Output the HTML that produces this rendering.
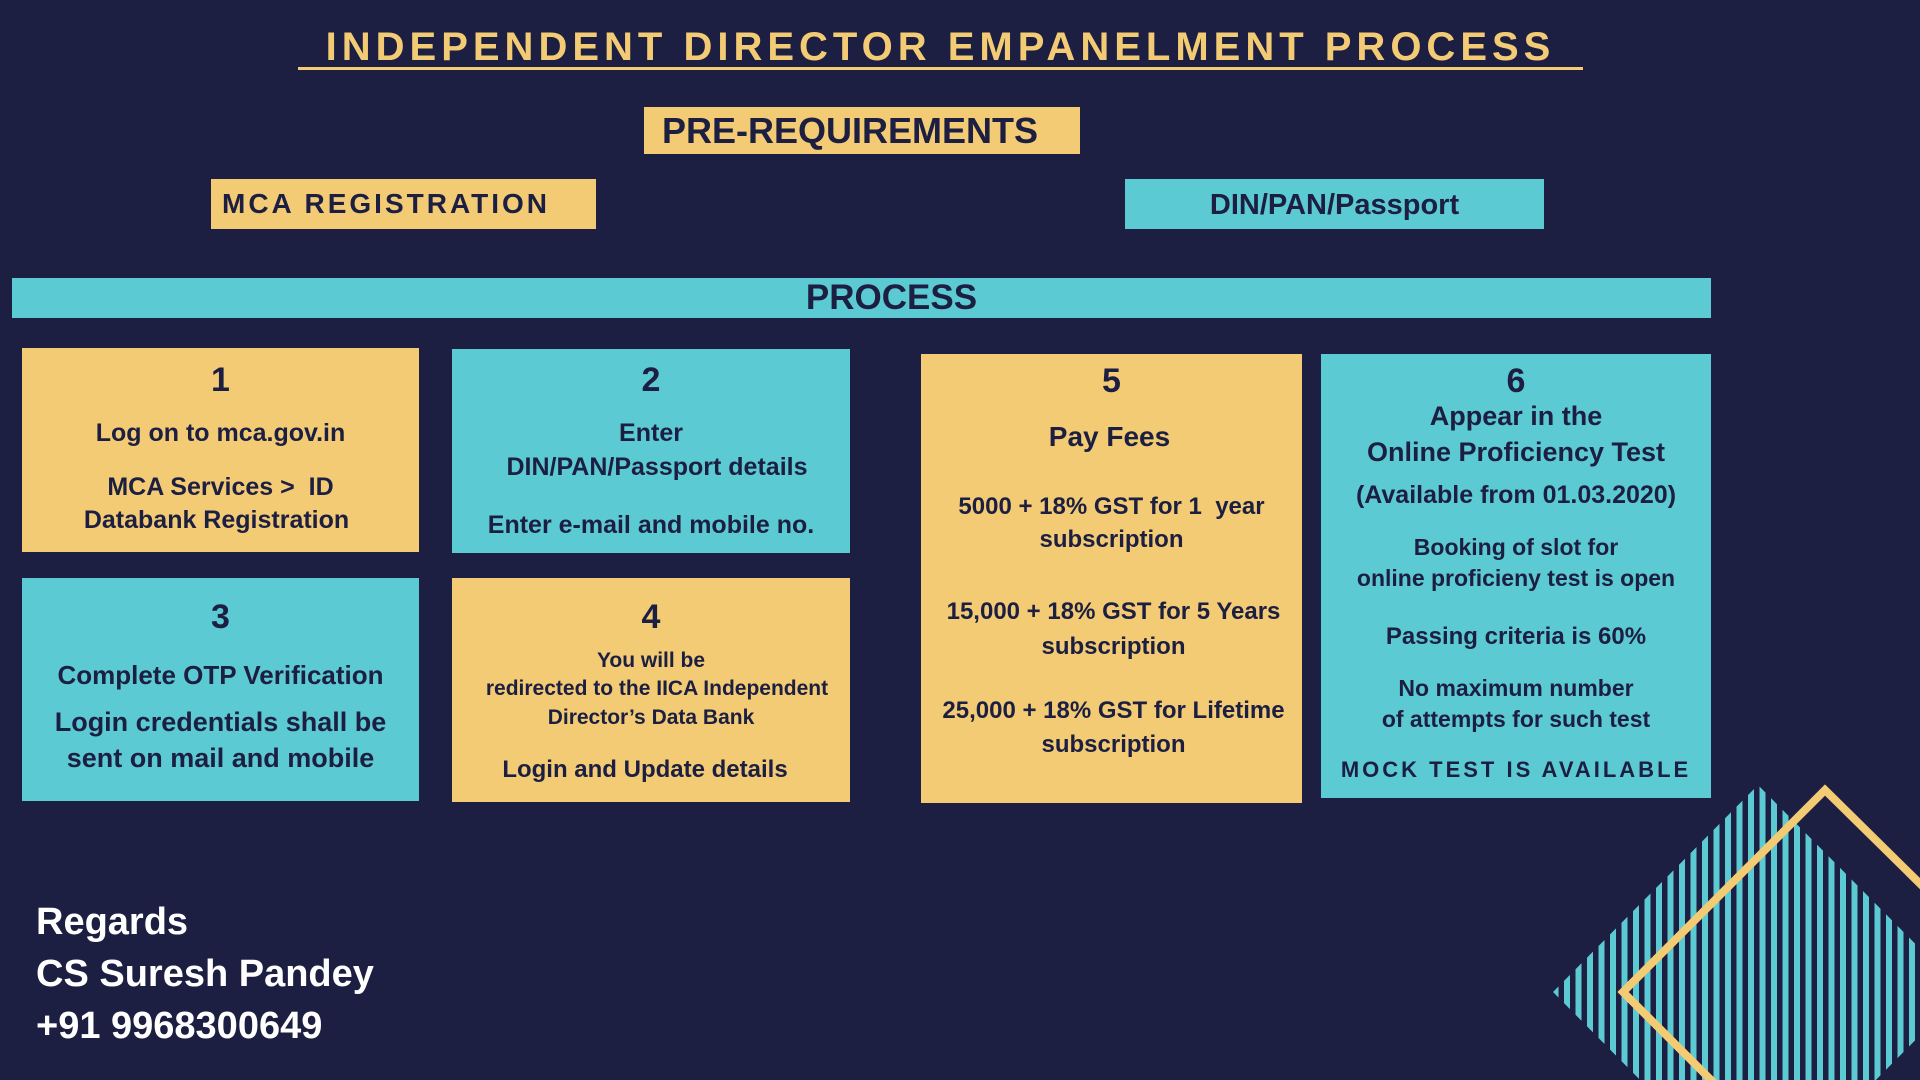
<!DOCTYPE html>
<html><head><meta charset="utf-8"><style>
*{margin:0;padding:0;box-sizing:border-box}
html,body{overflow:hidden}
body{width:1920px;height:1080px;background:#1c1f41;position:relative;overflow:hidden;font-family:"Liberation Sans",sans-serif;font-weight:bold;color:#1c1f41}
.b{position:absolute}
.y{background:#f2cb74}.t{background:#5ccad3}
.l{position:absolute;left:0;right:0;text-align:center;white-space:nowrap;height:30px;line-height:30px}
</style></head><body>
<svg class="b" style="left:0;top:0;display:block" width="1920" height="1080">
<defs>
<pattern id="st" width="11.5" height="20" patternUnits="userSpaceOnUse"><rect x="0" y="0" width="6" height="20" fill="#5ccad3"/></pattern>
<clipPath id="dm"><polygon points="1758,785 1963,992 1758,1199 1553,992"/></clipPath>
</defs>
<rect x="1540" y="780" width="380" height="300" fill="url(#st)" clip-path="url(#dm)"/>
<polygon points="1825,790 2030,992 1825,1194 1623,992" fill="none" stroke="#f2cb74" stroke-width="8"/>
</svg>

<div class="b" style="left:298px;top:20px;width:1285px;text-align:center;color:#f2cb74;font-size:40px;letter-spacing:5px;line-height:54px;border-bottom:3px solid #f2cb74;height:50px;white-space:nowrap">INDEPENDENT DIRECTOR EMPANELMENT PROCESS</div>

<div class="b y" style="left:644px;top:107px;width:436px;height:47px"><div class="l" style="top:9px;font-size:36px;text-align:left;padding-left:18px">PRE-REQUIREMENTS</div></div>
<div class="b y" style="left:211px;top:179px;width:385px;height:50px"><div class="l" style="top:10px;font-size:28px;text-align:left;padding-left:11px;letter-spacing:3px">MCA REGISTRATION</div></div>
<div class="b t" style="left:1125px;top:179px;width:419px;height:50px"><div class="l" style="top:11px;font-size:29px">DIN/PAN/Passport</div></div>

<div class="b t" style="left:12px;top:278px;width:1699px;height:40px"><div class="l" style="top:5px;font-size:35px;left:60px">PROCESS</div></div>

<div class="b y" style="left:22px;top:348px;width:397px;height:204px">
<div class="l" style="top:17px;font-size:34px">1</div>
<div class="l" style="top:70px;font-size:25px">Log on to mca.gov.in</div>
<div class="l" style="top:124px;font-size:25px">MCA Services &gt;&nbsp; ID</div>
<div class="l" style="top:157px;font-size:25px;left:-8px">Databank Registration</div>
</div>
<div class="b t" style="left:452px;top:349px;width:398px;height:204px">
<div class="l" style="top:16px;font-size:34px">2</div>
<div class="l" style="top:69px;font-size:25px">Enter</div>
<div class="l" style="top:103px;font-size:25px;left:12px">DIN/PAN/Passport details</div>
<div class="l" style="top:161px;font-size:25px">Enter e-mail and mobile no.</div>
</div>
<div class="b t" style="left:22px;top:578px;width:397px;height:223px">
<div class="l" style="top:24px;font-size:34px">3</div>
<div class="l" style="top:82px;font-size:26px">Complete OTP Verification</div>
<div class="l" style="top:129px;font-size:27px">Login credentials shall be</div>
<div class="l" style="top:165px;font-size:27px">sent on mail and mobile</div>
</div>
<div class="b y" style="left:452px;top:578px;width:398px;height:224px">
<div class="l" style="top:24px;font-size:34px">4</div>
<div class="l" style="top:68px;font-size:21px">You will be</div>
<div class="l" style="top:96px;font-size:21px;left:12px">redirected to the IICA Independent</div>
<div class="l" style="top:125px;font-size:21px">Director’s Data Bank</div>
<div class="l" style="top:177px;font-size:24px;left:-12px">Login and Update details</div>
</div>
<div class="b y" style="left:921px;top:354px;width:381px;height:449px">
<div class="l" style="top:12px;font-size:34px">5</div>
<div class="l" style="top:68px;font-size:28px;left:-4px">Pay Fees</div>
<div class="l" style="top:138px;font-size:24px">5000 + 18% GST for 1&nbsp; year</div>
<div class="l" style="top:171px;font-size:24px">subscription</div>
<div class="l" style="top:243px;font-size:24px;left:4px">15,000 + 18% GST for 5 Years</div>
<div class="l" style="top:278px;font-size:24px;left:4px">subscription</div>
<div class="l" style="top:342px;font-size:24px;left:4px">25,000 + 18% GST for Lifetime</div>
<div class="l" style="top:376px;font-size:24px;left:4px">subscription</div>
</div>
<div class="b t" style="left:1321px;top:354px;width:390px;height:444px">
<div class="l" style="top:12px;font-size:34px">6</div>
<div class="l" style="top:47px;font-size:27px">Appear in the</div>
<div class="l" style="top:83px;font-size:27px">Online Proficiency Test</div>
<div class="l" style="top:126px;font-size:25px">(Available from 01.03.2020)</div>
<div class="l" style="top:178px;font-size:23px">Booking of slot for</div>
<div class="l" style="top:209px;font-size:23px">online proficieny test is open</div>
<div class="l" style="top:268px;font-size:24px">Passing criteria is 60%</div>
<div class="l" style="top:319px;font-size:23px">No maximum number</div>
<div class="l" style="top:350px;font-size:23px">of attempts for such test</div>
<div class="l" style="top:401px;font-size:22px;letter-spacing:3px">MOCK TEST IS AVAILABLE</div>
</div>

<div class="b" style="left:36px;top:896px;color:#fff;font-size:38px;line-height:52px">Regards<br>CS Suresh Pandey<br>+91 9968300649</div>
</body></html>
